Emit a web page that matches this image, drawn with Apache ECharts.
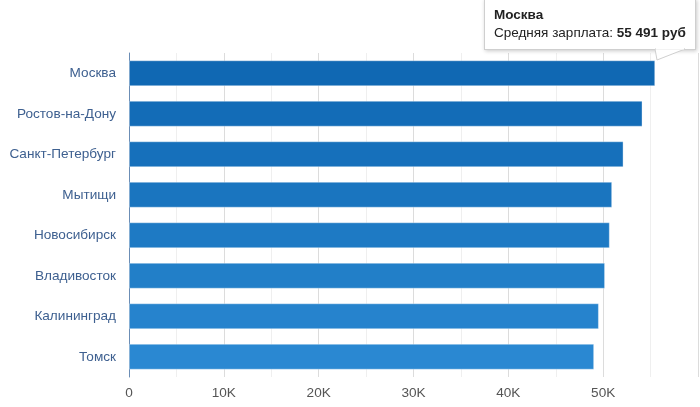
<!DOCTYPE html>
<html>
<head>
<meta charset="utf-8">
<script src="https://cdn.jsdelivr.net/npm/echarts@6/dist/echarts.min.js"></script>
<style>
    html, body {margin: 0; padding: 0; background: #fff;}
    #chart {width: 700px; height: 407px;}
</style>
</head>
<body>
<div id="chart"></div>
<script>
// города, сверху вниз
var cities = ['Москва', 'Ростов-на-Дону', 'Санкт-Петербург', 'Мытищи', 'Новосибирск', 'Владивосток', 'Калининград', 'Томск'];
// средняя зарплата, руб
var salaries = [55491, 54150, 52150, 50950, 50700, 50200, 49550, 49050];
var xTicks = [0, 10000, 20000, 30000, 40000, 50000, 60000];
var barColors = ['#1068b3', '#136cb7', '#1670bb', '#1a75bf', '#1e7ac4', '#227fc8', '#2683cd', '#2a88d2'];

var myChart = echarts.init(document.getElementById('chart'));

function fmt(v) {
    return String(v).replace(/\B(?=(\d{3})+(?!\d))/g, ' ');
}

var option = {
    animation: false,
    grid: {left: 129, right: 2, top: 53, bottom: 30},
    tooltip: {
        trigger: 'item',
        alwaysShowContent: true,
        transitionDuration: 0,
        padding: [6, 9, 7, 9],
        backgroundColor: '#fff',
        borderColor: '#cfcfcf',
        borderWidth: 1,
        extraCssText: 'border-radius:0;box-shadow:1px 1px 4px rgba(0,0,0,0.22);overflow:visible;',
        textStyle: {fontFamily: 'Liberation Sans, Arial', fontSize: 13.5, color: '#222'},
        position: function () {
            return [484, -1];
        },
        formatter: function (p) {
            return '<div style="line-height:18px"><b>' + p.name + '</b><br>Средняя зарплата: <b>' + fmt(p.value) + ' руб</b></div>' +
                '<svg width="40" height="14" style="position:absolute;left:170px;top:50px;overflow:visible">' +
                '<polygon points="0,-1 2,10 30,-1" fill="#fff" stroke="#cfcfcf" stroke-width="1"/>' +
                '<rect x="1" y="-3" width="28" height="2.5" fill="#fff"/></svg>';
        }
    },
    xAxis: {
        type: 'value',
        min: xTicks[0],
        max: xTicks[xTicks.length - 1],
        interval: 10000,
        axisLine: {show: false},
        axisTick: {show: false},
        axisLabel: {
            showMaxLabel: false,
            margin: 9,
            color: '#555',
            fontSize: 13.6,
            fontFamily: 'Liberation Sans, Arial',
            formatter: function (v) {
                return v === 0 ? '0' : (v / 1000) + 'K';
            }
        },
        splitLine: {lineStyle: {color: '#dcdcdc'}},
        minorTick: {show: false, splitNumber: 2},
        minorSplitLine: {show: true, lineStyle: {color: '#efefef'}}
    },
    yAxis: {
        type: 'category',
        inverse: true,
        data: cities,
        axisLine: {lineStyle: {color: '#6b8db5', width: 1}},
        axisTick: {show: false},
        axisLabel: {
            margin: 13,
            color: '#3e6090',
            fontSize: 13.6,
            fontFamily: 'Liberation Sans, Arial'
        }
    },
    series: [{
        type: 'bar',
        barCategoryGap: '36%',
        data: salaries.map(function (v, i) {
            return {value: v, itemStyle: {color: barColors[i]}};
        }),
        itemStyle: {borderColor: 'rgba(255,255,255,0.35)', borderWidth: 1}
    }]
};

myChart.setOption(option);
myChart.dispatchAction({type: 'showTip', seriesIndex: 0, dataIndex: 0});
</script>
</body>
</html>
